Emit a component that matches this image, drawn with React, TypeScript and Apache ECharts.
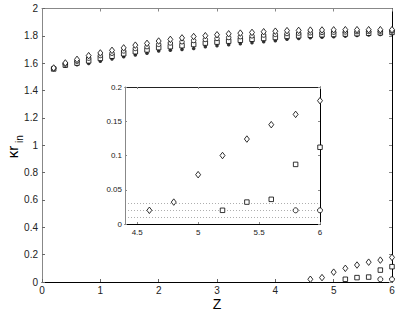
import React, { useEffect, useRef } from "react";
import * as echarts from "echarts";

const zTop = [0.2, 0.4, 0.6, 0.8, 1.0, 1.2, 1.4, 1.6, 1.8, 2.0, 2.2, 2.4, 2.6, 2.8, 3.0, 3.2, 3.4, 3.6, 3.8, 4.0, 4.2, 4.4, 4.6, 4.8, 5.0, 5.2, 5.4, 5.6, 5.8, 6.0];
const topDiamond = [1.565, 1.602, 1.628, 1.655, 1.675, 1.694, 1.712, 1.732, 1.745, 1.762, 1.774, 1.785, 1.795, 1.801, 1.808, 1.815, 1.82, 1.825, 1.83, 1.834, 1.838, 1.84, 1.842, 1.843, 1.844, 1.845, 1.845, 1.845, 1.845, 1.845];
const topCircle = [1.562, 1.594, 1.615, 1.637, 1.656, 1.673, 1.69, 1.708, 1.721, 1.738, 1.748, 1.757, 1.766, 1.774, 1.781, 1.788, 1.794, 1.8, 1.806, 1.811, 1.817, 1.82, 1.823, 1.825, 1.827, 1.829, 1.831, 1.832, 1.834, 1.835];
const topSquare = [1.558, 1.586, 1.601, 1.617, 1.635, 1.651, 1.669, 1.684, 1.697, 1.714, 1.721, 1.728, 1.737, 1.747, 1.754, 1.761, 1.768, 1.775, 1.781, 1.788, 1.796, 1.8, 1.804, 1.808, 1.81, 1.813, 1.816, 1.819, 1.822, 1.825];
const topDot = [1.555, 1.578, 1.588, 1.598, 1.615, 1.63, 1.648, 1.66, 1.673, 1.69, 1.695, 1.7, 1.708, 1.72, 1.728, 1.735, 1.742, 1.75, 1.757, 1.765, 1.775, 1.78, 1.786, 1.79, 1.794, 1.798, 1.802, 1.806, 1.81, 1.815];

const zDiamondLow = [4.6, 4.8, 5.0, 5.2, 5.4, 5.6, 5.8, 6.0];
const diamondLow = [0.02, 0.032, 0.072, 0.1, 0.124, 0.145, 0.16, 0.18];
const zSquareLow = [5.2, 5.4, 5.6, 5.8, 6.0];
const squareLow = [0.02, 0.032, 0.036, 0.087, 0.112];
const zCircleLow = [5.8, 6.0];
const circleLow = [0.02, 0.02];

const guideLevels = [0.01, 0.02, 0.03];
const insetXTicks = [4.5, 5, 5.5, 6];

const FONT = "Liberation Sans, Arial, Helvetica, sans-serif";

function pairs(xs: number[], ys: number[]) {
  return xs.map((x, i) => [x, ys[i]]);
}

export default function App() {
  const ref = useRef<HTMLDivElement>(null);
  useEffect(() => {
    if (!ref.current) return;
    const chart = echarts.init(ref.current, undefined, { renderer: "svg" });
    const hollow = (color = "#000") => ({ color: "#fff", borderColor: color, borderWidth: 0.8, opacity: 1 });
    const tickLabelMain = { color: "#222", fontSize: 10, fontFamily: FONT };
    const tickLabelInset = { color: "#222", fontSize: 8, fontFamily: FONT };

    const mkScatter = (name: string, data: number[][], symbol: string, size: any, axisIdx: number, filled = false) => ({
      name,
      type: "scatter",
      xAxisIndex: axisIdx,
      yAxisIndex: axisIdx,
      data,
      symbol,
      symbolSize: size,
      clip: false,
      itemStyle: filled ? { color: "#000" } : hollow(),
      z: 3,
    });

    const option: any = {
      animation: false,
      backgroundColor: "#fff",
      grid: [
        { left: 42, right: 7, top: 8.5, bottom: 29, show: false },
        { left: 125, right: 79, top: 87, bottom: 87, show: true, backgroundColor: "#fff", borderWidth: 0, z: 5 },
      ],
      xAxis: [
        {
          gridIndex: 0, type: "value", min: 0, max: 6, interval: 1, position: "bottom",
          axisLine: { onZero: false, lineStyle: { color: "#000", width: 1 } },
          axisTick: { inside: true, length: 3, lineStyle: { color: "#666" } },
          axisLabel: { ...tickLabelMain, margin: 3 },
          splitLine: { show: false },
        },
        {
          gridIndex: 0, type: "value", min: 0, max: 6, interval: 1, position: "top",
          axisLine: { onZero: false, lineStyle: { color: "#888", width: 1 } },
          axisTick: { inside: true, length: 3, lineStyle: { color: "#888" } },
          axisLabel: { show: false },
          splitLine: { show: false },
        },
        {
          gridIndex: 1, type: "value", min: 4.4, max: 6, position: "bottom",
          axisLine: { onZero: false, lineStyle: { color: "#000", width: 1 } },
          axisTick: { inside: true, length: 2, customValues: insetXTicks, lineStyle: { color: "#888" } },
          axisLabel: { ...tickLabelInset, margin: 4, customValues: insetXTicks },
          splitLine: { show: false },
          z: 6,
        },
        {
          gridIndex: 1, type: "value", min: 4.4, max: 6, position: "top",
          axisLine: { onZero: false, lineStyle: { color: "#222", width: 1 } },
          axisTick: { inside: true, length: 2, customValues: insetXTicks, lineStyle: { color: "#888" } },
          axisLabel: { show: false },
          splitLine: { show: false },
          z: 6,
        },
      ],
      yAxis: [
        {
          gridIndex: 0, type: "value", min: 0, max: 2, interval: 0.2, position: "left",
          axisLine: { show: true, onZero: false, lineStyle: { color: "#888", width: 1 } },
          axisTick: { show: true, inside: true, length: 3, lineStyle: { color: "#666" } },
          axisLabel: { ...tickLabelMain, margin: 4, formatter: (v: number) => String(Math.round(v * 10) / 10) },
          splitLine: { show: false },
        },
        {
          gridIndex: 0, type: "value", min: 0, max: 2, interval: 0.2, position: "right",
          axisLine: { show: true, onZero: false, lineStyle: { color: "#000", width: 1 } },
          axisTick: { show: true, inside: true, length: 3, lineStyle: { color: "#888" } },
          axisLabel: { show: false },
          splitLine: { show: false },
        },
        {
          gridIndex: 1, type: "value", min: 0, max: 0.2, interval: 0.05, position: "left",
          axisLine: { show: true, onZero: false, lineStyle: { color: "#888", width: 1 } },
          axisTick: { show: true, inside: true, length: 2, lineStyle: { color: "#888" } },
          axisLabel: { ...tickLabelInset, margin: 3, formatter: (v: number) => String(Math.round(v * 100) / 100) },
          splitLine: { show: false },
          z: 6,
        },
        {
          gridIndex: 1, type: "value", min: 0, max: 0.2, interval: 0.05, position: "right",
          axisLine: { show: true, onZero: false, lineStyle: { color: "#000", width: 1 } },
          axisTick: { show: true, inside: true, length: 2, lineStyle: { color: "#888" } },
          axisLabel: { show: false },
          splitLine: { show: false },
          z: 6,
        },
      ],
      graphic: [
        {
          type: "text", x: 12, y: 152, rotation: Math.PI / 2,
          style: { text: "κr", font: `15px ${FONT}`, fill: "#000", textAlign: "center", textVerticalAlign: "middle" },
        },
        {
          type: "text", x: 19.5, y: 139, rotation: Math.PI / 2,
          style: { text: "in", font: `10px ${FONT}`, fill: "#000", textAlign: "center", textVerticalAlign: "middle" },
        },
        {
          type: "text", x: 217, y: 304,
          style: { text: "Z", font: `14px ${FONT}`, fill: "#000", textAlign: "center", textVerticalAlign: "middle" },
        },
      ],
      series: [
        mkScatter("top-dot", pairs(zTop, topDot), "circle", 3.5, 0, true),
        mkScatter("top-square", pairs(zTop, topSquare), "rect", 4.5, 0),
        mkScatter("top-circle", pairs(zTop, topCircle), "circle", 4.5, 0),
        mkScatter("top-diamond", pairs(zTop, topDiamond), "diamond", [5, 6.5], 0),
        mkScatter("low-diamond", pairs(zDiamondLow, diamondLow), "diamond", [5, 6.5], 0),
        mkScatter("low-square", pairs(zSquareLow, squareLow), "rect", 4.5, 0),
        mkScatter("low-circle", pairs(zCircleLow, circleLow), "circle", 5, 0),
        {
          name: "guides", type: "line", xAxisIndex: 2, yAxisIndex: 2, data: [], z: 6,
          markLine: {
            silent: true, symbol: "none", label: { show: false },
            lineStyle: { type: [1, 2], color: "#999", width: 0.8 },
            data: guideLevels.map((v) => ({ yAxis: v })),
          },
        },
        { ...mkScatter("in-diamond", pairs(zDiamondLow, diamondLow), "diamond", [5, 6.5], 2), z: 7 },
        { ...mkScatter("in-square", pairs(zSquareLow, squareLow), "rect", 4.5, 2), z: 7 },
        { ...mkScatter("in-circle", pairs(zCircleLow, circleLow), "circle", 5, 2), z: 7 },
      ],
    };
    chart.setOption(option);
    return () => chart.dispose();
  }, []);
  return <div ref={ref} style={{ width: 399, height: 311, position: "absolute", left: 0, top: 0 }} />;
}
